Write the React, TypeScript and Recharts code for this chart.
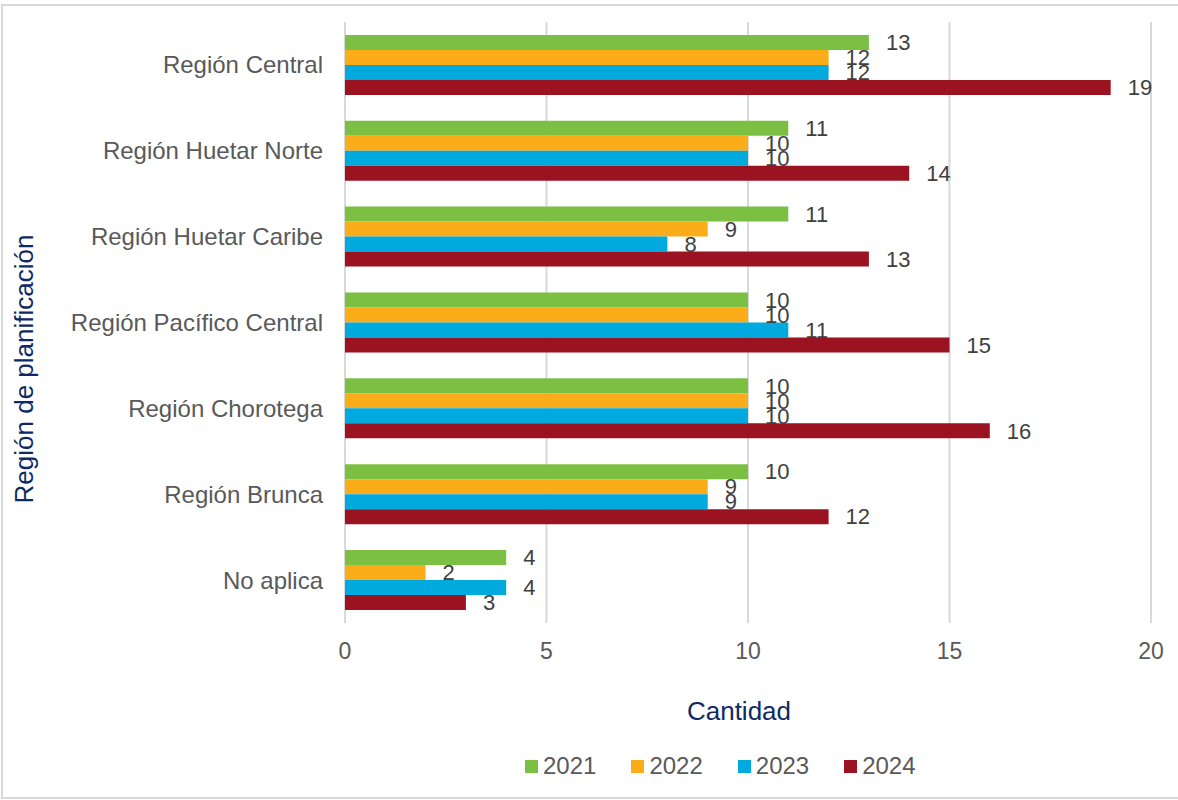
import React from 'react';
import { BarChart, Bar, XAxis, YAxis, CartesianGrid, LabelList, Legend, Label } from 'recharts';

const regions = [
  'Región Central',
  'Región Huetar Norte',
  'Región Huetar Caribe ',
  'Región Pacífico Central',
  'Región Chorotega',
  'Región Brunca',
  'No aplica',
];
const v2021 = [13, 11, 11, 10, 10, 10, 4];
const v2022 = [12, 10, 9, 10, 10, 9, 2];
const v2023 = [12, 10, 8, 11, 10, 9, 4];
const v2024 = [19, 14, 13, 15, 16, 12, 3];
const xTicks = [0, 5, 10, 15, 20];

const seriesNames = ['2021', '2022', '2023', '2024'];
const seriesKeys = ['y2021', 'y2022', 'y2023', 'y2024'];
const seriesColors = ['#7BC043', '#FAAD19', '#00AADF', '#9B1221'];

const data = regions.map((r, i) => ({
  region: r,
  y2021: v2021[i],
  y2022: v2022[i],
  y2023: v2023[i],
  y2024: v2024[i],
}));

const FONT = '"Liberation Sans", Arial, sans-serif';
const NAVY = '#0E2A64';

const LegendContent = () => (
  <div style={{ display: 'flex', alignItems: 'center', height: 40, paddingLeft: 525, fontFamily: FONT }}>
    {seriesNames.map((n, i) => (
      <div key={n} style={{ display: 'flex', alignItems: 'center', marginRight: 35 }}>
        <div style={{ width: 13, height: 13, background: seriesColors[i], marginRight: 5 }} />
        <span style={{ fontSize: 24, color: '#595959', lineHeight: '40px' }}>{n}</span>
      </div>
    ))}
  </div>
);

export default function App() {
  return (
    <div style={{ position: 'absolute', left: 0, top: 0, width: 1178, height: 800, background: '#fff', overflow: 'hidden', fontFamily: FONT }}>
      <div style={{ position: 'absolute', left: 1, top: 4, width: 1190, height: 791, border: '2px solid #D9D9D9' }} />
      <div style={{ position: 'absolute', left: 0, top: 0 }}>
        <BarChart
          width={1178}
          height={800}
          data={data}
          layout="vertical"
          margin={{ top: 22, right: 27, left: 0, bottom: 14 }}
          barCategoryGap="15%"
          barGap={0}
        >
          <CartesianGrid horizontal={false} stroke="#D9D9D9" strokeWidth={2} />
          <XAxis
            type="number"
            domain={[0, 20]}
            ticks={xTicks}
            axisLine={false}
            tickLine={false}
            tickSize={0}
            tickMargin={20}
            height={123}
            tick={{ fill: '#595959', fontSize: 23, fontFamily: FONT }}
          >
            <Label
              content={() => (
                <text x={739} y={720} textAnchor="middle" fill={NAVY} fontSize={26} fontFamily={FONT}>
                  Cantidad
                </text>
              )}
            />
          </XAxis>
          <YAxis
            type="category"
            dataKey="region"
            width={345}
            axisLine={false}
            tickLine={false}
            tickSize={0}
            tickMargin={22}
            interval={0}
            tick={{ fill: '#595959', fontSize: 24, fontFamily: FONT }}
          >
            <Label
              content={() => (
                <text
                  x={33}
                  y={369}
                  transform="rotate(-90 33 369)"
                  textAnchor="middle"
                  fill={NAVY}
                  fontSize={26}
                  fontFamily={FONT}
                >
                  Región de planificación
                </text>
              )}
            />
          </YAxis>
          <Legend verticalAlign="bottom" content={<LegendContent />} />
          {seriesKeys.map((k, i) => (
            <Bar key={k} dataKey={k} name={seriesNames[i]} fill={seriesColors[i]} isAnimationActive={false}>
              <LabelList dataKey={k} position="right" offset={17} fill="#404040" fontSize={22} fontFamily={FONT} />
            </Bar>
          ))}
        </BarChart>
      </div>
    </div>
  );
}
